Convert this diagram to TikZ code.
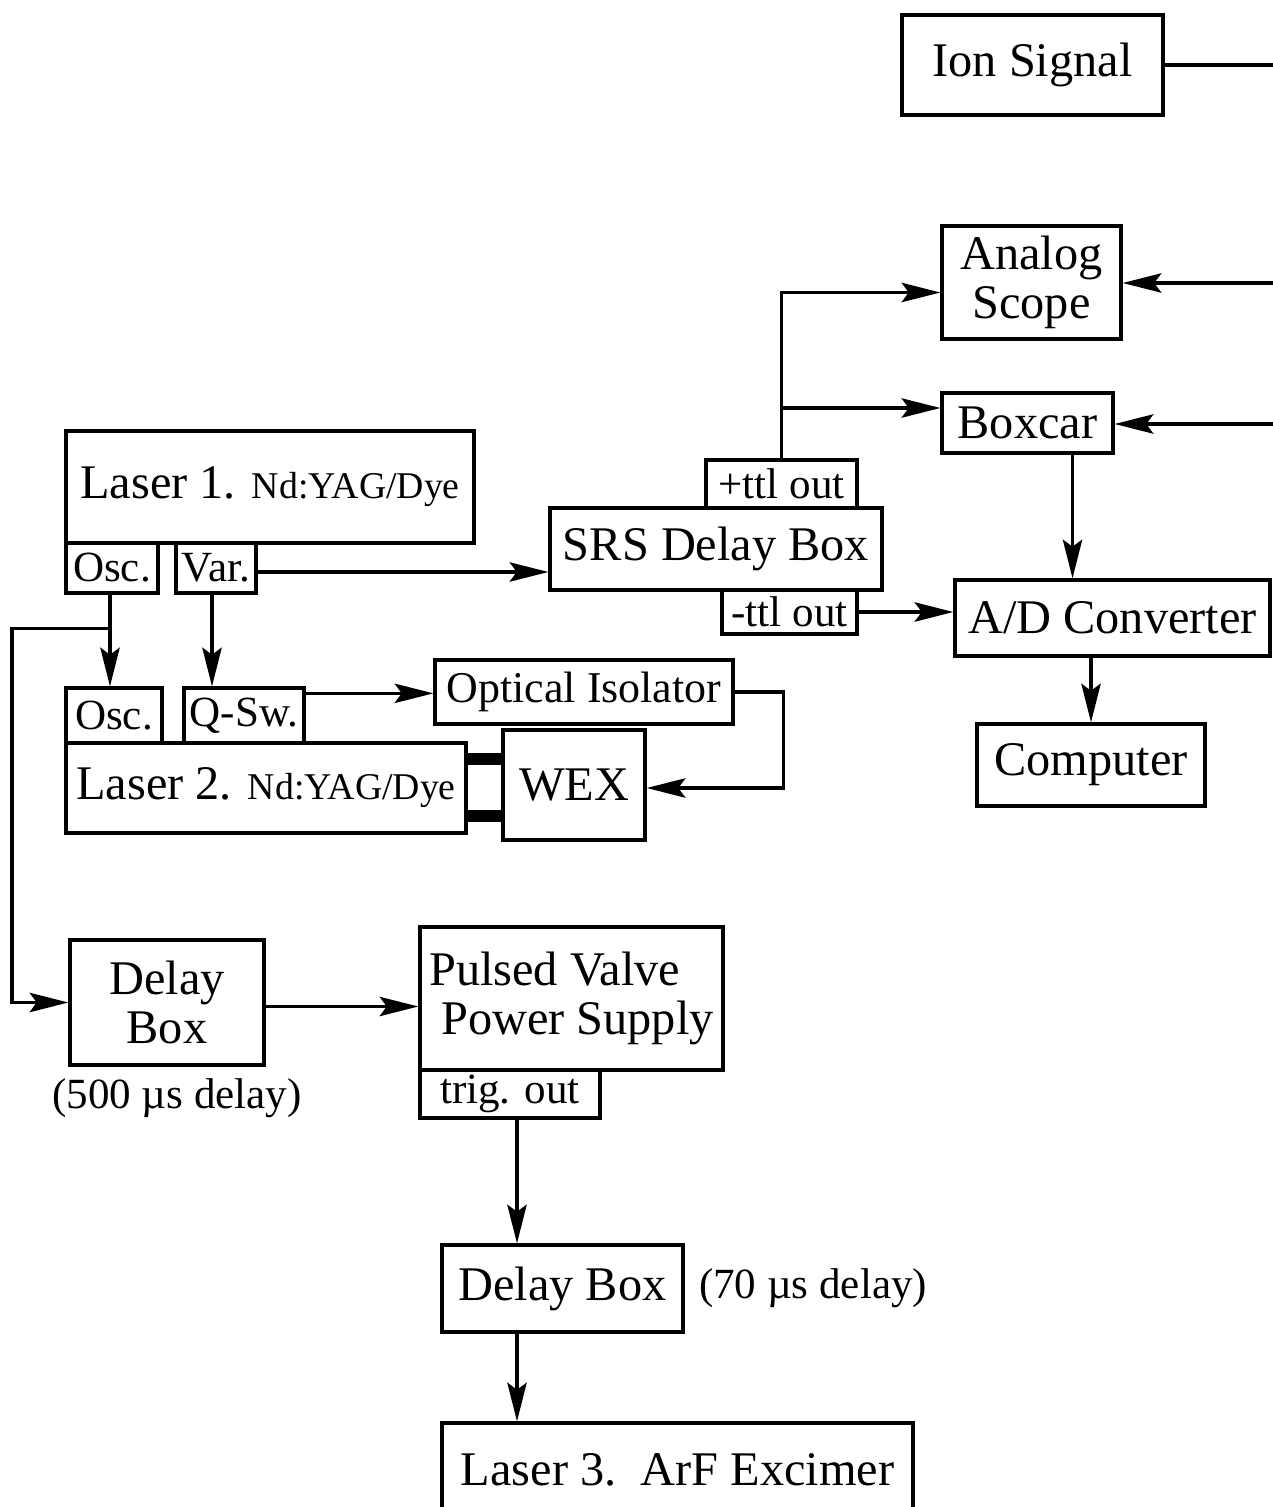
\documentclass[tikz,border=0pt]{standalone}
\usepackage{fontspec}
\setmainfont{Liberation Serif}
\usepackage{tikz}
\usetikzlibrary{arrows.meta, positioning, calc}

\newcommand{\ndyag}{{\fontsize{21.5}{24}\selectfont Nd:YAG/Dye}}

\begin{document}
\begin{tikzpicture}[
        x=0.02cm, y=-0.02cm,
        box/.style={rectangle, draw, line width=1.9pt, inner sep=0pt, align=center, font=\fontsize{27.5}{27.5}\selectfont},
        tab/.style={box, font=\fontsize{24.5}{27}\selectfont},
        note/.style={inner sep=0pt, font=\fontsize{24.5}{27}\selectfont},
        wire/.style={line width=1.9pt},
        arr/.style={wire, -{Stealth[length=22pt, width=11pt, inset=4pt]}},
        bar/.style={line width=6.8pt}
    ]
    \useasboundingbox (0,0) rectangle (1273,1507);

    % Detection side
    \node[box, minimum width=5.22cm, minimum height=2cm] (ion) at (1032.5,65) {Ion Signal};
    \node[box, minimum width=3.58cm, minimum height=2.26cm] (scope) at (1031.5,282.5) {Analog\\Scope};
    \node[box, minimum width=3.42cm, minimum height=1.2cm] (boxcar) at (1027.5,423) {Boxcar};
    \node[box, minimum width=6.30cm, minimum height=1.52cm] (adc) at (1112.5,618) {A/D Converter};
    \node[box, minimum width=4.56cm, minimum height=1.64cm] (comp) at (1091,765) {Computer};

    % SRS delay box
    \node[box, minimum width=6.64cm, minimum height=1.64cm] (srs) at (716,549) {SRS Delay Box};
    \node[tab, minimum width=3.02cm, minimum height=0.96cm] (pttl) at (781.5,484) {+ttl out};
    \node[tab, minimum width=2.70cm, minimum height=0.88cm] (mttl) at (789.5,612) {-ttl out};

    % Lasers 1 and 2
    \node[box, minimum width=8.16cm, minimum height=2.24cm] (las1) at (270,487) {Laser 1. \ndyag};
    \node[tab, minimum width=1.84cm, minimum height=1.0cm] (osc1) at (112,568) {Osc.};
    \node[tab, minimum width=1.60cm, minimum height=1.0cm] (var1) at (216,568) {Var.};
    \node[tab, minimum width=1.92cm, minimum height=1.10cm] (osc2) at (114,715.5) {Osc.};
    \node[tab, minimum width=2.40cm, minimum height=1.10cm] (qsw) at (244,715.5) {Q-Sw.};
    \node[box, minimum width=8.0cm, minimum height=1.80cm] (las2) at (266,788) {Laser 2. \ndyag};
    \node[box, minimum width=5.96cm, minimum height=1.28cm, font=\fontsize{25}{27}\selectfont] (iso) at (584,692) {Optical Isolator};
    \node[box, minimum width=2.84cm, minimum height=2.20cm] (wex) at (574,785) {WEX};

    % Valve and laser 3 chain
    \node[box, minimum width=3.88cm, minimum height=2.50cm] (dly1) at (167,1002.5) {Delay\\Box};
    \node[note] (dly1lbl) at (177,1098) {(500 µs delay)};
    \node[box, minimum width=6.06cm, minimum height=2.86cm, align=left] (pv) at (571.5,998.5) {Pulsed Valve\\\hspace*{0.24cm}Power Supply};
    \node[tab, minimum width=3.60cm, minimum height=0.96cm] (trig) at (510,1094) {trig. out};
    \node[box, minimum width=4.82cm, minimum height=1.74cm] (dly2) at (562.5,1288.5) {Delay Box};
    \node[note, right=0.28cm of dly2] (dly2lbl) {(70 µs delay)};
    \node[box, minimum width=9.42cm, minimum height=2.0cm] (las3) at (677.5,1473) {\raisebox{0.16cm}{Laser 3.\ \ ArF Excimer}};

    % Signal lines from the right
    \coordinate (sigA) at (1280,65);
    \coordinate (sigB) at (1280,283);
    \coordinate (sigC) at (1280,424);
    \draw[wire] (ion.east) -- (sigA);
    \draw[arr] (sigB) -- (sigB -| scope.east);
    \draw[arr] (sigC) -- (sigC -| boxcar.east);

    % Tap points
    \coordinate (scopeIn) at ($(scope.west)+(0,10)$);
    \coordinate (boxIn) at ($(boxcar.west)+(0,-15)$);
    \coordinate (boxOut) at ($(boxcar.south)+(45,0)$);
    \coordinate (varOut) at ($(var1.east)+(0,4)$);
    \coordinate (oscOut) at ($(osc1.south)+(-2,0)$);
    \coordinate (oscTee) at ($(osc1.south)+(-2,34)$);
    \coordinate (qOut) at ($(var1.south)+(-4,0)$);
    \coordinate (qswOut) at ($(qsw.north east)+(0,7)$);
    \coordinate (wexIn) at ($(wex.east)+(0,3)$);
    \coordinate (dlyOut) at ($(dly1.east)+(0,4)$);
    \coordinate (trigOut) at ($(trig.south)+(7,0)$);

    % Trigger lines
    \draw[arr] (pttl.north) |- (scopeIn);
    \draw[arr] (pttl.north |- boxIn) -- (boxIn);
    \draw[arr] (mttl.east) -- (mttl.east -| adc.west);
    \draw[arr] (boxOut) -- (boxOut |- adc.north);
    \draw[arr] (adc.south -| comp.north) -- (comp.north);
    \draw[arr] (varOut) -- (varOut -| srs.west);
    \draw[arr] (oscOut) -- (oscOut |- osc2.north);
    \draw[arr] (qOut) -- (qOut |- qsw.north);
    \draw[arr] (oscTee) -- ++(-98,0) |- (dly1.west);
    \draw[arr] (qswOut) -- (qswOut -| iso.west);
    \draw[arr] (iso.east) -- ++(49,0) |- (wexIn);
    \draw[arr] (dlyOut) -- (dlyOut -| pv.west);
    \draw[arr] (trigOut) -- (trigOut |- dly2.north);
    \draw[arr] (trigOut |- dly2.south) -- (trigOut |- las3.north);

    % Laser 2 to WEX
    \draw[bar] ($(las2.east)+(0,-29)$) -- ($(las2.east -| wex.west)+(0,-29)$);
    \draw[bar] ($(las2.east)+(0,28)$) -- ($(las2.east -| wex.west)+(0,28)$);

\end{tikzpicture}
\end{document}
